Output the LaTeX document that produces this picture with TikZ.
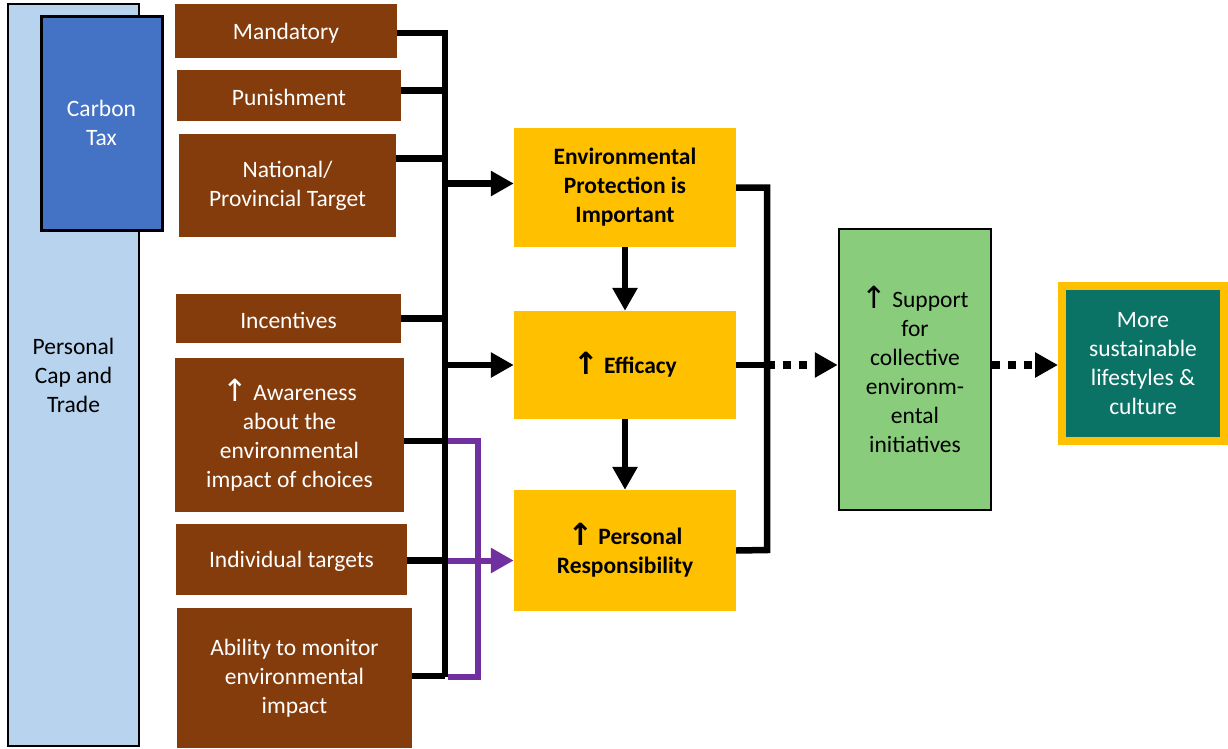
\documentclass[tikz,border=0pt]{standalone}
\usepackage{fontspec}
\setmainfont{Carlito}
\newfontfamily\symfnt{DejaVu Sans}
\usetikzlibrary{arrows.meta}
\definecolor{capblue}{HTML}{B7D3EE}
\definecolor{taxblue}{HTML}{4472C4}
\definecolor{brownbox}{HTML}{843C0C}
\definecolor{yellowbox}{HTML}{FFC000}
\definecolor{greenbox}{HTML}{89CC7C}
\definecolor{tealbox}{HTML}{0A7366}
\definecolor{purpleline}{HTML}{7030A0}
\newcommand\upar{\raisebox{-1pt}{\scalebox{1.3}{\symfnt ↑}}}
\begin{document}
\begin{tikzpicture}[x=1pt,y=-1pt,
  box/.style={inner sep=0pt, align=center, font=\fontsize{23.5}{29}\selectfont, execute at begin node={\rule{0pt}{21pt}}},
  brownb/.style={box, fill=brownbox, text=white},
  yelb/.style={box, fill=yellowbox, text=black, font=\fontsize{23.5}{29}\selectfont\bfseries, minimum width=222pt},
  bus/.style={line width=6.5pt, draw=black},
  arr/.style={line width=6.5pt, draw=black, -{Triangle[length=23pt,width=24pt]}},
  parr/.style={line width=6pt, draw=purpleline, -{Triangle[length=23pt,width=24pt]}},
  dotarr/.style={line width=7.5pt, draw=black, dash pattern=on 8pt off 8pt, -{Triangle[length=23pt,width=24pt]}}
]
\useasboundingbox (0,0) rectangle (1228,748);

% left boxes
\node[box, fill=capblue, draw=black, line width=2.5pt, minimum width=131pt, minimum height=742pt] (cat) at (73.5,375) {Personal\\Cap and\\Trade};
\node[box, fill=taxblue, draw=black, line width=3pt, minimum width=121pt, minimum height=214pt, text=white] (ct) at (101.5,123) {Carbon\\Tax};

% brown boxes
\node[brownb, minimum width=222pt, minimum height=54pt] (m1) at (286,31) {Mandatory};
\node[brownb, minimum width=224pt, minimum height=51pt] (m2) at (289,95.5) {Punishment};
\node[brownb, minimum width=217pt, minimum height=103pt] (m3) at (287.5,185.5) {National/\\Provincial Target};
\node[brownb, minimum width=225pt, minimum height=49pt] (m4) at (288.5,318.5) {Incentives};
\node[brownb, minimum width=229pt, minimum height=154pt] (m5) at (289.5,435) {\upar{} Awareness\\about the\\environmental\\impact of choices};
\node[brownb, minimum width=231pt, minimum height=71pt] (m6) at (291.5,559.5) {Individual targets};
\node[brownb, minimum width=235pt, minimum height=140pt] (m7) at (294.5,678) {Ability to monitor\\environmental\\impact};

% yellow boxes
\node[yelb, minimum height=119pt] (e1) at (625,187.5) {Environmental\\Protection is\\Important};
\node[yelb, minimum height=108pt] (e2) at (625,365) {\upar{} Efficacy};
\node[yelb, minimum height=121pt] (e3) at (625,550.5) {\upar{} Personal\\Responsibility};

% green and teal
\node[box, fill=greenbox, draw=black, line width=2.5pt, minimum width=152pt, minimum height=281pt] (g) at (915,369.5) {\upar{} Support\\for\\collective\\environm-\\ental\\initiatives};
\node[box, fill=tealbox, draw=yellowbox, line width=8pt, minimum width=162pt, minimum height=155pt, text=white] (t) at (1143,363.5) {More\\sustainable\\lifestyles \&\\culture};

% bus coordinates
\coordinate (busbot) at (445,677);
\coordinate (pr) at (478,677);
\coordinate (rb) at (767,550);

% black bus
\draw[bus] ([yshift=-2pt]m1.east) coordinate (m1s) -| (busbot);
\draw[bus] ([yshift=5pt]m2.east) coordinate (m2s) -- (m2s -| busbot);
\draw[bus] (m3.east) ++(0,-27) coordinate (m3s) -- (m3s -| busbot);
\draw[bus] (m4.east) -- (m4.east -| busbot);
\draw[bus] ([yshift=-6pt]m5.east) coordinate (m5s) -- (m5s -| busbot);
\draw[bus] ([yshift=-1pt]m6.east) coordinate (m6s) -- (m6s -| busbot);
\draw[bus] ([yshift=2pt]m7.east) coordinate (m7s) -- (m7s -| busbot);

\draw[arr] ([yshift=4pt]e1.west -| busbot) -- ([yshift=4pt]e1.west);
\draw[arr] (e2.west -| busbot) -- (e2.west);

% purple bracket
\draw[line width=6pt, draw=purpleline] ([xshift=3pt]m5s -| busbot) -| (pr) -- ([xshift=3pt]busbot);
\draw[parr] ([xshift=3pt]m6s -| busbot) -- (m6s -| e3.west);

% vertical arrows
\draw[arr] (e1.south) -- (e2.north);
\draw[arr] (e2.south) -- (e3.north);

% right bracket
\draw[bus] (e1.east) -| (rb) -- (e3.east);
\draw[bus] (e2.east) -- (e2.east -| rb);
\draw[dotarr] (e2.east -| rb) -- (e2.east -| g.west);
\draw[dotarr] (e2.east -| g.east) -- (e2.east -| t.west);
\end{tikzpicture}
\end{document}
